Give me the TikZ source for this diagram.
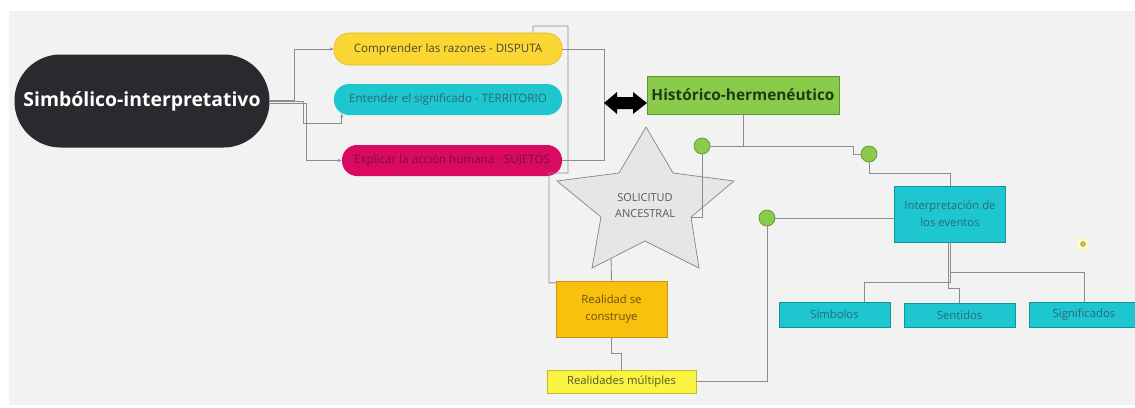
\documentclass[tikz,border=0pt]{standalone}
\usepackage{fontspec}
\setmainfont{Open Sans}
\usetikzlibrary{arrows.meta}
\definecolor{bgc}{HTML}{F2F2F2}
\definecolor{blk}{HTML}{2A2A2E}
\definecolor{yel}{HTML}{FCD733}
\definecolor{yeld}{HTML}{E0B820}
\definecolor{yelt}{HTML}{4A4632}
\definecolor{cya}{HTML}{1EC6CF}
\definecolor{cyad}{HTML}{13929A}
\definecolor{cyat}{HTML}{2A6A74}
\definecolor{mag}{HTML}{DA0A63}
\definecolor{magt}{HTML}{7A1038}
\definecolor{grn}{HTML}{8BCB4B}
\definecolor{grnd}{HTML}{5E9530}
\definecolor{grnt}{HTML}{1E3A16}
\definecolor{org}{HTML}{F8C10E}
\definecolor{orgd}{HTML}{C0951A}
\definecolor{orgt}{HTML}{6B5010}
\definecolor{lem}{HTML}{FBF342}
\definecolor{lemd}{HTML}{C2BA30}
\definecolor{lemt}{HTML}{55552E}
\definecolor{conc}{HTML}{8C8C8C}
\definecolor{strf}{HTML}{E6E6E6}
\definecolor{strd}{HTML}{858585}
\begin{document}
\begin{tikzpicture}[x=1pt,y=-1pt,
  conn/.style={draw=conc,line width=0.9pt},
  arr/.style={-{Stealth[length=4pt,width=3pt]}},
  pill/.style={rounded corners=15pt,minimum width=228pt,minimum height=32pt,inner sep=0pt,font=\fontsize{11.6}{13}\selectfont},
  sqbox/.style={rectangle,inner sep=0pt,align=center,font=\fontsize{11.3}{17}\selectfont},
  cbox/.style={sqbox,fill=cya,draw=cyad,line width=0.7pt,text=cyat},
  gdot/.style={circle,fill=grn,draw=grnd,line width=0.7pt,minimum size=16pt,inner sep=0pt}
]
\useasboundingbox (0,0) rectangle (1135,407);
\fill[white] (0,0) rectangle (1135,407);
\fill[bgc] (9,11) rectangle (1135,405);

% star coordinates
\coordinate (sT) at (646,127);
\coordinate (sIR) at (673,173);
\coordinate (sR) at (734,181);
\coordinate (sIRB) at (691,217);
\coordinate (sBR) at (699,268);
\coordinate (sIB) at (645,241);
\coordinate (sBL) at (592,268);
\coordinate (sILB) at (601,217);
\coordinate (sL) at (557,181);
\coordinate (sIL) at (619,173);
\coordinate (sFoot) at (611,258);

% nodes
\node[pill,fill=blk,rounded corners=46pt,minimum width=255pt,minimum height=93pt,text=white,font=\fontsize{19.4}{22}\selectfont\bfseries] (sim) at (142,101) {Simbólico-interpretativo};
\node[pill,fill=yel,draw=yeld,line width=0.6pt,text=yelt] (yel) at (448,49) {Comprender las razones - DISPUTA};
\node[pill,fill=cya,minimum height=31pt,text=cyat] (cya) at (448,99.5) {Entender el significado - TERRITORIO};
\node[pill,fill=mag,minimum width=220pt,minimum height=31pt,text=magt] (mag) at (452,160.5) {Explicar la acción humana - SUJETOS};
\node[sqbox,fill=grn,draw=grnd,line width=0.7pt,minimum width=192pt,minimum height=38pt,text=grnt,font=\fontsize{15.4}{17}\selectfont\bfseries] (hist) at (743,95) {Histórico-hermenéutico};
\node[sqbox,fill=org,draw=orgd,line width=0.7pt,minimum width=111pt,minimum height=56pt,text=orgt] (real) at (611.5,309) {Realidad se\\construye};
\node[sqbox,fill=lem,draw=lemd,line width=0.7pt,minimum width=149pt,minimum height=23pt,text=lemt] (mult) at (621.5,381.5) {Realidades múltiples};
\node[cbox,minimum width=111pt,minimum height=56pt] (interp) at (950,214) {Interpretación de\\los eventos};
\node[cbox,minimum width=111pt,minimum height=25pt] (simb) at (834.5,314.5) {Símbolos};
\node[cbox,minimum width=111pt,minimum height=24pt] (sent) at (959.5,315) {Sentidos};
\node[cbox,minimum width=110pt,minimum height=25pt] (signif) at (1084,314.5) {Significados};

% connectors
\draw[conn,arr] ([yshift=1pt]sim.east) -- ++(25,0) |- (yel.west);
\draw[conn,arr] (sim.east) -| (303,123) -| ([xshift=8pt,yshift=1.5pt]cya.south west);
\draw[conn,arr] ([yshift=-2pt]sim.east) -| (306,160.5) -- (mag.west);
\draw[conn] (yel.east) -| (604,160.5) -- (mag.east);
\draw[conn] ([xshift=85pt]yel.north) |- (568,26) -- (568,173) -| (549,283) -- ([yshift=-2pt]real.north west);

% star
\draw[fill=strf,draw=strd,line width=0.7pt] (sT) -- (sIR) -- (sR) -- (sIRB) -- (sBR) -- (sIB) -- (sBL) -- (sILB) -- (sL) -- (sIL) -- cycle;
\node[align=center,text=black!65,font=\fontsize{11}{16}\selectfont,inner sep=0pt] (star) at (645,206) {SOLICITUD\\ANCESTRAL};

% double arrow
\fill[black] (604,103) -- (617,92) -- (617,97) -- (633,97) -- (633,92) -- (647,103) -- (633,114) -- (633,109) -- (617,109) -- (617,114) -- cycle;

% green dots
\node[gdot] (c1) at (702,146) {};
\node[gdot] (c2) at (869,154) {};
\node[gdot] (c3) at (767,218) {};

\draw[conn] (hist.south) |- (c1.east);
\draw[conn] (c1.east) -| (853,154) -- (c2.west);
\draw[conn] (c1.south) |- (sIRB);
\draw[conn] (c2.south) |- ([yshift=12pt]interp.north) -- (interp.north);
\draw[conn] (c3.east) -- (c3.east -| interp.west);
\draw[conn] (c3.south) |- (mult.east);
\draw[conn] (sFoot) -- (real.north);
\draw[conn] (real.south) -- ++(0,16) -| (mult.north);
\draw[conn] (interp.south) -- ++(0,30) -| (signif.north);
\draw[conn] (interp.south) -- ++(0,40) -| ([xshift=30pt]simb.north);
\draw[conn] ([xshift=-2pt]interp.south) -- ++(0,46) -| (sent.north);

% small dot
\fill[yellow!25] (1083,244) circle (6);
\node[circle,fill=yellow!60!black!70!white,draw=yellow!50!black,line width=0.3pt,minimum size=5pt,inner sep=0pt] (ydot) at (1083,244) {};
\end{tikzpicture}
\end{document}
